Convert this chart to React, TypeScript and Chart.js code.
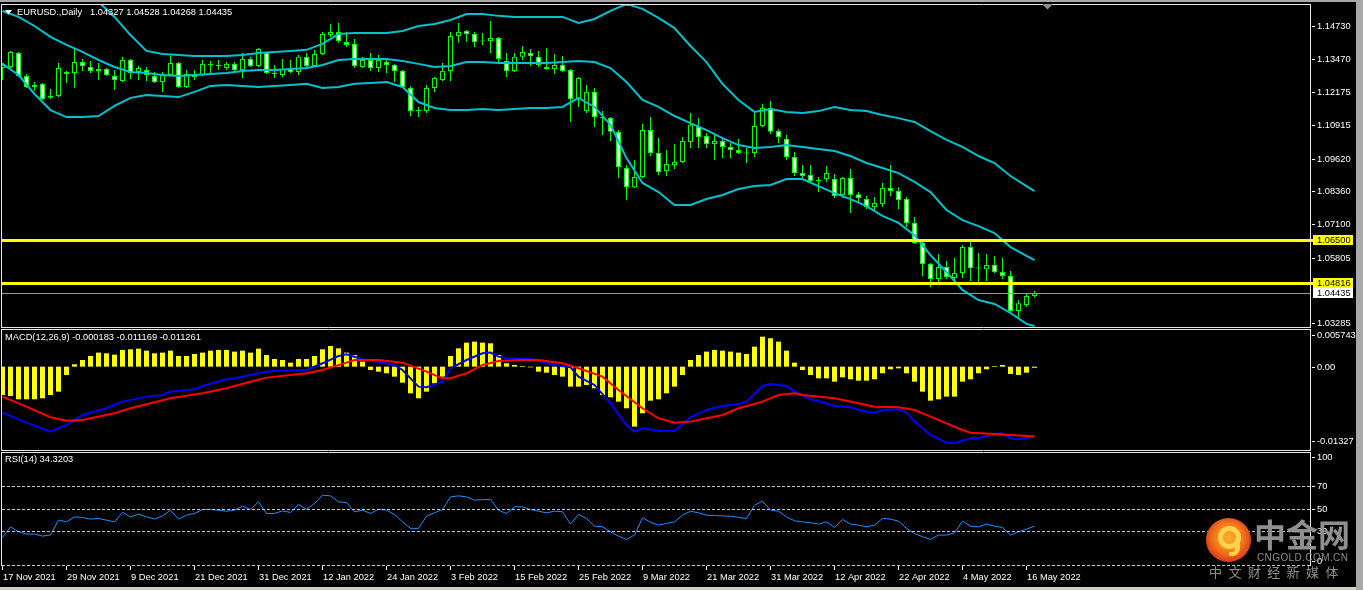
import React, { useEffect, useRef } from 'react';
import { Chart, registerables } from 'chart.js';

Chart.register(...registerables);

// ---------------- data ----------------
const dateLabels = ['17 Nov 2021', '29 Nov 2021', '9 Dec 2021', '21 Dec 2021', '31 Dec 2021', '12 Jan 2022', '24 Jan 2022', '3 Feb 2022', '15 Feb 2022', '25 Feb 2022', '9 Mar 2022', '21 Mar 2022', '31 Mar 2022', '12 Apr 2022', '22 Apr 2022', '4 May 2022', '16 May 2022'];
const dateTickBars = [0, 8, 16, 24, 32, 40, 48, 56, 64, 72, 80, 88, 96, 104, 112, 120, 128];

const opens = [1.1311, 1.1315, 1.1369, 1.1280, 1.1246, 1.1250, 1.1196, 1.1203, 1.1296, 1.1292, 1.1334, 1.1315, 1.1307, 1.1307, 1.1280, 1.1261, 1.1342, 1.1296, 1.1303, 1.1280, 1.1257, 1.1284, 1.1330, 1.1238, 1.1276, 1.1284, 1.1323, 1.1323, 1.1311, 1.1327, 1.1303, 1.1346, 1.1319, 1.1369, 1.1292, 1.1284, 1.1307, 1.1296, 1.1354, 1.1319, 1.1365, 1.1438, 1.1450, 1.1411, 1.1404, 1.1315, 1.1342, 1.1311, 1.1334, 1.1323, 1.1300, 1.1234, 1.1145, 1.1145, 1.1234, 1.1265, 1.1300, 1.1434, 1.1454, 1.1442, 1.1415, 1.1415, 1.1427, 1.1338, 1.1300, 1.1354, 1.1369, 1.1354, 1.1315, 1.1307, 1.1323, 1.1303, 1.1192, 1.1145, 1.1219, 1.1122, 1.1118, 1.1065, 1.0926, 1.0852, 1.0891, 1.1072, 1.0984, 1.0914, 1.0937, 1.0949, 1.1026, 1.1084, 1.1049, 1.1018, 1.1030, 1.1007, 1.0995, 1.0984, 1.0984, 1.1088, 1.1157, 1.1068, 1.1038, 1.0968, 1.0906, 1.0899, 1.0876, 1.0883, 1.0883, 1.0822, 1.0887, 1.0825, 1.0806, 1.0775, 1.0787, 1.0849, 1.0837, 1.0806, 1.0714, 1.0637, 1.0556, 1.0498, 1.0544, 1.0502, 1.0521, 1.0621, 1.0540, 1.0536, 1.0552, 1.0525, 1.0510, 1.0375, 1.0398, 1.04327];
const highs = [1.1330, 1.1377, 1.1373, 1.1288, 1.1257, 1.1253, 1.1230, 1.1330, 1.1300, 1.1384, 1.1346, 1.1338, 1.1330, 1.1311, 1.1303, 1.1354, 1.1346, 1.1319, 1.1315, 1.1296, 1.1296, 1.1357, 1.1334, 1.1303, 1.1303, 1.1342, 1.1338, 1.1342, 1.1334, 1.1334, 1.1369, 1.1354, 1.1388, 1.1373, 1.1323, 1.1346, 1.1342, 1.1361, 1.1369, 1.1381, 1.1450, 1.1481, 1.1485, 1.1450, 1.1423, 1.1354, 1.1369, 1.1361, 1.1350, 1.1327, 1.1303, 1.1242, 1.1161, 1.1246, 1.1276, 1.1330, 1.1450, 1.1485, 1.1458, 1.1450, 1.1446, 1.1492, 1.1431, 1.1369, 1.1369, 1.1396, 1.1384, 1.1377, 1.1388, 1.1365, 1.1357, 1.1307, 1.1276, 1.1246, 1.1234, 1.1145, 1.1122, 1.1072, 1.0937, 1.0957, 1.1095, 1.1122, 1.1041, 1.0995, 1.1018, 1.1045, 1.1138, 1.1118, 1.1061, 1.1061, 1.1045, 1.1022, 1.1038, 1.1003, 1.1138, 1.1172, 1.1184, 1.1076, 1.1053, 1.0987, 1.0937, 1.0937, 1.0891, 1.0933, 1.0903, 1.0891, 1.0922, 1.0833, 1.0818, 1.0814, 1.0868, 1.0937, 1.0852, 1.0814, 1.0737, 1.0644, 1.0560, 1.0594, 1.0567, 1.0579, 1.0629, 1.0641, 1.0598, 1.0594, 1.0587, 1.0579, 1.0529, 1.0417, 1.0444, 1.04528];
const lows = [1.1265, 1.1311, 1.1276, 1.1234, 1.1223, 1.1188, 1.1192, 1.1199, 1.1253, 1.1234, 1.1300, 1.1292, 1.1265, 1.1280, 1.1226, 1.1257, 1.1269, 1.1265, 1.1261, 1.1253, 1.1219, 1.1280, 1.1234, 1.1234, 1.1265, 1.1280, 1.1292, 1.1303, 1.1303, 1.1296, 1.1273, 1.1315, 1.1315, 1.1288, 1.1273, 1.1276, 1.1292, 1.1284, 1.1315, 1.1315, 1.1361, 1.1431, 1.1408, 1.1392, 1.1311, 1.1311, 1.1300, 1.1296, 1.1292, 1.1257, 1.1234, 1.1126, 1.1122, 1.1138, 1.1219, 1.1261, 1.1261, 1.1408, 1.1411, 1.1392, 1.1400, 1.1369, 1.1330, 1.1276, 1.1296, 1.1342, 1.1319, 1.1315, 1.1303, 1.1288, 1.1296, 1.1103, 1.1161, 1.1138, 1.1084, 1.1053, 1.1030, 1.0887, 1.0802, 1.0849, 1.0887, 1.0972, 1.0899, 1.0895, 1.0922, 1.0945, 1.1003, 1.1003, 1.1003, 1.0957, 1.0964, 1.0964, 1.0980, 1.0945, 1.0968, 1.1084, 1.1057, 1.1022, 1.0957, 1.0895, 1.0880, 1.0868, 1.0833, 1.0872, 1.0810, 1.0810, 1.0752, 1.0791, 1.0768, 1.0756, 1.0775, 1.0818, 1.0768, 1.0698, 1.0633, 1.0510, 1.0467, 1.0486, 1.0498, 1.0494, 1.0502, 1.0490, 1.0486, 1.0490, 1.0521, 1.0498, 1.0367, 1.0348, 1.0390, 1.04268];
const closes = [1.1323, 1.1373, 1.1280, 1.1238, 1.1238, 1.1192, 1.1203, 1.1311, 1.1288, 1.1334, 1.1319, 1.1300, 1.1300, 1.1284, 1.1265, 1.1342, 1.1292, 1.1311, 1.1284, 1.1257, 1.1288, 1.1330, 1.1238, 1.1288, 1.1284, 1.1327, 1.1327, 1.1319, 1.1327, 1.1303, 1.1346, 1.1319, 1.1384, 1.1292, 1.1288, 1.1307, 1.1296, 1.1354, 1.1319, 1.1365, 1.1442, 1.1450, 1.1415, 1.1400, 1.1319, 1.1342, 1.1311, 1.1342, 1.1323, 1.1300, 1.1238, 1.1145, 1.1149, 1.1234, 1.1273, 1.1300, 1.1434, 1.1450, 1.1442, 1.1411, 1.1413, 1.1427, 1.1346, 1.1300, 1.1354, 1.1373, 1.1357, 1.1323, 1.1307, 1.1323, 1.1300, 1.1192, 1.1273, 1.1219, 1.1122, 1.1118, 1.1065, 1.0930, 1.0852, 1.0891, 1.1072, 1.0984, 1.0910, 1.0941, 1.0949, 1.1030, 1.1092, 1.1045, 1.1018, 1.1030, 1.1007, 1.0995, 1.0984, 1.0982, 1.1088, 1.1157, 1.1065, 1.1045, 1.0968, 1.0906, 1.0895, 1.0876, 1.0880, 1.0906, 1.0818, 1.0887, 1.0822, 1.0810, 1.0775, 1.0791, 1.0849, 1.0837, 1.0802, 1.0714, 1.0637, 1.0556, 1.0498, 1.0544, 1.0506, 1.0521, 1.0621, 1.0540, 1.0538, 1.0552, 1.0525, 1.0510, 1.0375, 1.0405, 1.0432, 1.04435];

const bandBars = [0, 2, 4, 6, 8, 10, 12, 14, 16, 18, 20, 22, 24, 26, 28, 30, 32, 34, 36, 38, 40, 42, 44, 46, 48, 50, 52, 54, 56, 58, 60, 62, 64, 66, 68, 70, 72, 74, 76, 78, 80, 82, 84, 86, 88, 90, 92, 94, 96, 98, 100, 102, 104, 106, 108, 110, 112, 114, 116, 118, 120, 122, 124, 126, 128, 129];
const bbUpper = [1.1735, 1.1731, 1.1735, 1.1712, 1.1677, 1.1623, 1.1566, 1.1508, 1.1438, 1.1377, 1.1365, 1.1361, 1.1357, 1.1357, 1.1357, 1.1361, 1.1369, 1.1373, 1.1377, 1.1381, 1.1404, 1.1442, 1.1446, 1.1446, 1.1446, 1.1454, 1.1473, 1.1481, 1.1496, 1.1519, 1.1519, 1.1512, 1.1508, 1.1508, 1.1508, 1.1508, 1.1485, 1.1500, 1.1531, 1.1558, 1.1539, 1.1504, 1.1465, 1.1396, 1.1334, 1.1250, 1.1188, 1.1142, 1.1153, 1.1142, 1.1138, 1.1145, 1.1161, 1.1149, 1.1145, 1.1130, 1.1118, 1.1103, 1.1068, 1.1034, 1.1007, 1.0972, 1.0945, 1.0895, 1.0856, 1.0837];
const bbMiddle = [1.1531, 1.1508, 1.1473, 1.1431, 1.1400, 1.1373, 1.1342, 1.1315, 1.1296, 1.1292, 1.1284, 1.1280, 1.1284, 1.1288, 1.1292, 1.1300, 1.1303, 1.1303, 1.1307, 1.1311, 1.1323, 1.1342, 1.1346, 1.1346, 1.1346, 1.1338, 1.1327, 1.1315, 1.1319, 1.1334, 1.1334, 1.1330, 1.1330, 1.1330, 1.1330, 1.1334, 1.1338, 1.1334, 1.1311, 1.1257, 1.1188, 1.1161, 1.1126, 1.1099, 1.1072, 1.1041, 1.1014, 1.1003, 1.1007, 1.1014, 1.1007, 1.0999, 1.0991, 1.0972, 1.0945, 1.0926, 1.0906, 1.0872, 1.0833, 1.0764, 1.0725, 1.0702, 1.0675, 1.0621, 1.0587, 1.0571];
const bbLower = [1.1327, 1.1284, 1.1211, 1.1149, 1.1122, 1.1122, 1.1126, 1.1165, 1.1196, 1.1207, 1.1203, 1.1199, 1.1219, 1.1242, 1.1246, 1.1242, 1.1238, 1.1242, 1.1246, 1.1250, 1.1234, 1.1238, 1.1250, 1.1253, 1.1257, 1.1238, 1.1180, 1.1157, 1.1149, 1.1149, 1.1153, 1.1149, 1.1153, 1.1157, 1.1157, 1.1161, 1.1196, 1.1161, 1.1092, 1.0964, 1.0868, 1.0833, 1.0783, 1.0783, 1.0806, 1.0822, 1.0845, 1.0856, 1.0860, 1.0883, 1.0883, 1.0856, 1.0829, 1.0806, 1.0779, 1.0741, 1.0714, 1.0667, 1.0590, 1.0525, 1.0456, 1.0417, 1.0402, 1.0367, 1.0325, 1.0317];

const priceTicks = [1.14730, 1.13470, 1.12175, 1.10915, 1.09620, 1.08360, 1.07100, 1.05805, 1.03285];
const levelLines = [1.06500, 1.04816];
const bidPrice = 1.04435;
const headerSymbol = 'EURUSD.,Daily';
const headerOHLC = '1.04327 1.04528 1.04268 1.04435';

const macdHist = [-0.00457, -0.00473, -0.00526, -0.00526, -0.00526, -0.00510, -0.00457, -0.00403, -0.00134, 0.00038,
  0.00107, 0.00172, 0.00226, 0.00215, 0.00193, 0.00269, 0.00279, 0.00290, 0.00258, 0.00215,
  0.00226, 0.00258, 0.00172, 0.00172, 0.00204, 0.00226, 0.00258, 0.00269, 0.00269, 0.00242,
  0.00258, 0.00226, 0.00290, 0.00188, 0.00124, 0.00107, 0.00064, 0.00124, 0.00124, 0.00172,
  0.00279, 0.00333, 0.00295, 0.00226, 0.00188, 0.00081, -0.00054, -0.00081, -0.00107, -0.00161,
  -0.00258, -0.00430, -0.00510, -0.00403, -0.00269, -0.00161, 0.00172, 0.00295, 0.00387, 0.00403,
  0.00387, 0.00376, 0.00188, 0.00054, 0.00027, 0.00011, -0.00011, -0.00081, -0.00097, -0.00134,
  -0.00161, -0.00322, -0.00322, -0.00295, -0.00349, -0.00457, -0.00494, -0.00564, -0.00671, -0.00967,
  -0.00752, -0.00548, -0.00526, -0.00430, -0.00322, -0.00134, 0.00107, 0.00188, 0.00242, 0.00269,
  0.00258, 0.00242, 0.00226, 0.00204, 0.00322, 0.00483, 0.00457, 0.00403, 0.00258, 0.00064,
  -0.00054, -0.00134, -0.00188, -0.00188, -0.00242, -0.00172, -0.00204, -0.00226, -0.00226, -0.00204,
  -0.00107, -0.00043, -0.00027, -0.00107, -0.00242, -0.00403, -0.00548, -0.00526, -0.00483, -0.00483,
  -0.00242, -0.00204, -0.00107, -0.00043, 0.00011, 0.00027, -0.00118, -0.00134, -0.00097, -0.000183];
const macdBars = [0, 3, 6, 8, 10, 13, 15, 18, 20, 21, 24, 25, 28, 29, 31, 33, 34, 38, 40, 42, 43, 45, 49, 50, 52, 53, 55, 56, 58, 60, 61, 62, 63, 66, 69, 71, 72, 74, 76, 78, 79, 80, 82, 84, 86, 88, 90, 92, 93, 95, 96, 98, 99, 101, 103, 104, 106, 108, 109, 110, 112, 113, 114, 116, 118, 119, 121, 122, 124, 125, 126, 127, 128, 129];
const macdMain = [-0.00741, -0.00902, -0.01047, -0.00940, -0.00779, -0.00671, -0.00564, -0.00483, -0.00457, -0.00403, -0.00365, -0.00312, -0.00204, -0.00188, -0.00134, -0.00081, -0.00070, -0.00054, 0.00054, 0.00172, 0.00199, 0.00118, 0.00027, -0.00054, -0.00322, -0.00333, -0.00242, -0.00027, 0.00107, 0.00215, 0.00226, 0.00161, 0.00134, 0.00124, 0.00027, -0.00011, -0.00161, -0.00295, -0.00591, -0.00940, -0.01047, -0.00994, -0.01031, -0.01037, -0.00816, -0.00698, -0.00634, -0.00602, -0.00564, -0.00312, -0.00279, -0.00312, -0.00403, -0.00526, -0.00591, -0.00634, -0.00655, -0.00730, -0.00741, -0.00698, -0.00688, -0.00741, -0.00886, -0.01101, -0.01225, -0.01235, -0.01155, -0.01155, -0.01085, -0.01074, -0.01155, -0.01171, -0.01155, -0.011169];
const signalBars = [0, 3, 6, 8, 10, 14, 16, 21, 25, 28, 31, 33, 38, 40, 43, 44, 47, 50, 53, 55, 56, 58, 60, 62, 65, 67, 70, 72, 75, 77, 80, 82, 84, 86, 90, 92, 95, 97, 99, 100, 104, 107, 109, 112, 114, 116, 118, 120, 121, 124, 126, 129];
const signalLine = [-0.00483, -0.00645, -0.00816, -0.00870, -0.00859, -0.00752, -0.00671, -0.00510, -0.00430, -0.00349, -0.00242, -0.00177, -0.00107, -0.00054, 0.00064, 0.00107, 0.00107, 0.00064, -0.00081, -0.00188, -0.00188, -0.00107, 0.00027, 0.00091, 0.00107, 0.00107, 0.00054, -0.00027, -0.00161, -0.00376, -0.00671, -0.00833, -0.00902, -0.00886, -0.00779, -0.00671, -0.00564, -0.00457, -0.00430, -0.00457, -0.00510, -0.00591, -0.00645, -0.00655, -0.00698, -0.00806, -0.00913, -0.01021, -0.01064, -0.01085, -0.01101, -0.011261];
const macdTicks = [0.005743, 0, -0.01327];
const macdTickLabels = ['0.005743', '0.00', '-0.01327'];
const macdTitle = 'MACD(12,26,9) -0.000183 -0.011169 -0.011261';

const rsiValues = [24.4, 33.8, 29.4, 27.4, 27.4, 25.6, 26.5, 39.7, 38.2, 42.6,
  42.1, 40.6, 41.2, 39.7, 38.2, 46.5, 42.6, 45.0, 42.6, 40.6,
  43.5, 48.5, 40.6, 44.1, 45.6, 49.1, 49.1, 48.5, 47.6, 48.5,
  52.1, 49.1, 55.9, 45.6, 45.6, 47.9, 46.5, 53.5, 49.4, 54.4,
  61.8, 61.2, 55.9, 55.3, 47.1, 48.5, 45.6, 49.4, 48.5, 44.7,
  38.2, 32.4, 32.4, 43.2, 46.2, 49.1, 60.3, 61.2, 60.3, 57.4,
  57.9, 57.9, 48.5, 45.6, 51.5, 51.5, 49.1, 47.6, 46.2, 47.6,
  47.1, 36.2, 44.7, 41.2, 34.4, 33.8, 29.4, 25.6, 22.6, 26.5,
  41.8, 37.8, 35.3, 36.8, 38.2, 44.1, 47.6, 46.2, 44.1, 43.8,
  43.5, 43.2, 42.1, 41.2, 52.9, 56.5, 48.5, 47.6, 42.6, 39.1,
  38.2, 37.4, 36.2, 38.2, 33.2, 40.3, 36.2, 35.3, 33.8, 35.3,
  41.2, 40.6, 38.8, 32.4, 27.9, 25.0, 22.6, 26.5, 26.5, 28.5,
  38.8, 34.4, 33.8, 36.2, 34.4, 33.2, 26.5, 29.4, 31.8, 34.3203];
const rsiLevels = [70, 50, 30, 0];
const rsiTicks = [100, 70, 50, 30, 0];
const rsiTitle = 'RSI(14) 34.3203';

// ---------------- styles ----------------
const FONT = '"Liberation Sans", Arial, sans-serif';
const W = 1363;
const PLOT_L = 2;
const PLOT_R = 1310;
const X_MIN = -0.0625;
const GREEN = '#00ff00';
const CYAN = '#00c2cf';
const FRAME = '#e8e8e8';
const AXIS_TEXT = '#ffffff';
const AXIS_FONT = 9.3;
const TITLE_FONT = 9.3;
const LABEL_X = 1317;
const P_MAX = 1.15539;
const P_MIN = 1.03130;

function txt(ctx: CanvasRenderingContext2D, s: string, x: number, y: number, color: string, size: number, align: CanvasTextAlign = 'left', baseline: CanvasTextBaseline = 'middle') {
  ctx.fillStyle = color;
  ctx.font = `${size}px ${FONT}`;
  ctx.textAlign = align;
  ctx.textBaseline = baseline;
  ctx.fillText(s, x, y);
}

function hline(ctx: CanvasRenderingContext2D, x1: number, x2: number, y: number, color: string) {
  ctx.strokeStyle = color;
  ctx.lineWidth = 1;
  ctx.beginPath();
  ctx.moveTo(x1, y + 0.5);
  ctx.lineTo(x2, y + 0.5);
  ctx.stroke();
}

function vline(ctx: CanvasRenderingContext2D, x: number, y1: number, y2: number, color: string) {
  ctx.strokeStyle = color;
  ctx.lineWidth = 1;
  ctx.beginPath();
  ctx.moveTo(x + 0.5, y1);
  ctx.lineTo(x + 0.5, y2);
  ctx.stroke();
}

const blackBg = {
  id: 'blackBg',
  beforeDraw(chart: any) {
    const { ctx, width, height } = chart;
    ctx.save();
    ctx.fillStyle = '#000';
    ctx.fillRect(0, 0, width, height);
    ctx.restore();
  },
};

const mainDeco = {
  id: 'mainDeco',
  afterDatasetsDraw(chart: any) {
    const { ctx, chartArea, scales } = chart;
    const y = scales.y;
    ctx.save();
    const yb = Math.round(y.getPixelForValue(bidPrice));
    hline(ctx, chartArea.left, chartArea.right, yb, '#9a9a9a');
    ctx.strokeStyle = '#ffff00';
    ctx.lineWidth = 3;
    levelLines.forEach((v) => {
      const py = Math.round(y.getPixelForValue(v)) + 0.5;
      ctx.beginPath();
      ctx.moveTo(chartArea.left, py);
      ctx.lineTo(1314, py);
      ctx.stroke();
    });
    ctx.restore();
  },
  afterDraw(chart: any) {
    const { ctx, scales } = chart;
    const y = scales.y;
    ctx.save();
    ctx.fillStyle = '#a8a8a8';
    ctx.fillRect(0, 0, W, 2);
    hline(ctx, 1, PLOT_R + 1, 4, FRAME);
    hline(ctx, 1, PLOT_R + 1, 327, FRAME);
    vline(ctx, 1, 4, 328, FRAME);
    vline(ctx, PLOT_R, 4, 328, FRAME);
    ctx.fillStyle = '#8c8c8c';
    ctx.beginPath();
    ctx.moveTo(1042, 4);
    ctx.lineTo(1053, 4);
    ctx.lineTo(1047.5, 9.5);
    ctx.closePath();
    ctx.fill();
    ctx.fillStyle = '#ffffff';
    ctx.beginPath();
    ctx.moveTo(5, 10);
    ctx.lineTo(12, 10);
    ctx.lineTo(8.5, 14.5);
    ctx.closePath();
    ctx.fill();
    txt(ctx, headerSymbol, 17, 12.5, '#ffffff', TITLE_FONT);
    txt(ctx, headerOHLC, 90, 12.5, '#ffffff', TITLE_FONT);
    priceTicks.forEach((v) => {
      const py = Math.round(y.getPixelForValue(v));
      hline(ctx, 1312, 1315, py, AXIS_TEXT);
      txt(ctx, v.toFixed(5), LABEL_X, py + 0.5, AXIS_TEXT, AXIS_FONT);
    });
    const boxes: [number, string, string][] = [
      [levelLines[0], '#ffff00', '#000000'],
      [levelLines[1], '#ffff00', '#000000'],
      [bidPrice, '#ffffff', '#000000'],
    ];
    boxes.forEach(([v, bg, fg]) => {
      const py = Math.round(y.getPixelForValue(v));
      ctx.fillStyle = bg;
      ctx.fillRect(1313, py - 5, 40, 10);
      txt(ctx, v.toFixed(5), LABEL_X, py + 0.5, fg, AXIS_FONT);
    });
    ctx.restore();
  },
};

const macdDeco = {
  id: 'macdDeco',
  afterDraw(chart: any) {
    const { ctx, chartArea, scales } = chart;
    const y = scales.y;
    ctx.save();
    hline(ctx, 1, PLOT_R + 1, 1, FRAME);
    hline(ctx, 1, PLOT_R + 1, 122, FRAME);
    vline(ctx, 1, 1, 123, FRAME);
    vline(ctx, PLOT_R, 1, 123, FRAME);
    txt(ctx, macdTitle, 5, 9.5, '#ffffff', TITLE_FONT);
    macdTicks.forEach((v, i) => {
      const raw = y.getPixelForValue(v);
      const py = Math.round(Math.min(Math.max(raw, chartArea.top + 4), chartArea.bottom - 8));
      hline(ctx, 1312, 1315, py, AXIS_TEXT);
      txt(ctx, macdTickLabels[i], LABEL_X, py + 0.5, AXIS_TEXT, AXIS_FONT);
    });
    ctx.restore();
  },
};

const rsiDeco = {
  id: 'rsiDeco',
  afterDraw(chart: any) {
    const { ctx, chartArea, scales } = chart;
    const y = scales.y;
    const x = scales.x;
    ctx.save();
    hline(ctx, 1, PLOT_R + 1, 1, FRAME);
    vline(ctx, 1, 1, chartArea.bottom + 1, FRAME);
    vline(ctx, PLOT_R, 1, chartArea.bottom + 1, FRAME);
    ctx.setLineDash([3, 2]);
    rsiLevels.forEach((v) => {
      const py = Math.round(y.getPixelForValue(v));
      hline(ctx, chartArea.left, chartArea.right, py, '#c8c8c8');
    });
    ctx.setLineDash([]);
    txt(ctx, rsiTitle, 5, 8.5, '#ffffff', TITLE_FONT);
    rsiTicks.forEach((v) => {
      const raw = y.getPixelForValue(v);
      const py = Math.round(Math.min(Math.max(raw, chartArea.top + 5), chartArea.bottom - 4));
      hline(ctx, 1312, 1315, py, AXIS_TEXT);
      txt(ctx, String(v), LABEL_X, py + 0.5, AXIS_TEXT, AXIS_FONT);
    });
    const base = chartArea.bottom + 1;
    dateTickBars.forEach((b, i) => {
      const px = Math.floor(x.getPixelForValue(b));
      vline(ctx, px, base, base + 4, AXIS_TEXT);
      txt(ctx, dateLabels[i], px + 1, base + 11, AXIS_TEXT, AXIS_FONT);
    });
    ctx.fillStyle = '#d4d0c8';
    ctx.fillRect(0, chart.height - 3, W, 3);
    ctx.restore();
  },
};

function baseOptions(padding: any, yMin: number, yMax: number, xMin: number) {
  return {
    animation: false,
    responsive: false,
    maintainAspectRatio: false,
    devicePixelRatio: 1,
    events: [],
    layout: { padding },
    plugins: { legend: { display: false }, tooltip: { enabled: false } },
    scales: {
      x: { type: 'linear', min: xMin, max: xMin + (PLOT_R - PLOT_L) / 8, display: false, offset: false, grid: { display: false } },
      y: { type: 'linear', min: yMin, max: yMax, display: false, grid: { display: false } },
    },
  };
}

function mainConfig(): any {
  const band = (vals: number[]) => ({
    type: 'line',
    data: bandBars.map((b, k) => ({ x: b, y: vals[k] })),
    borderColor: CYAN,
    borderWidth: 2,
    pointRadius: 0,
    tension: 0,
    fill: false,
  });
  return {
    type: 'bar',
    data: {
      datasets: [
        band(bbUpper),
        band(bbMiddle),
        band(bbLower),
        {
          type: 'bar',
          data: opens.map((o, i) => ({ x: i, y: [o, closes[i]] })),
          backgroundColor: opens.map((o, i) => (closes[i] < o ? '#ffffff' : '#000000')),
          borderColor: GREEN,
          borderWidth: 1,
          borderSkipped: false,
          barThickness: 5,
          minBarLength: 1,
          grouped: false,
          inflateAmount: 0,
        },
        {
          type: 'bar',
          data: highs.map((h, i) => ({ x: i, y: [lows[i], h] })),
          backgroundColor: GREEN,
          borderWidth: 0,
          barThickness: 1,
          grouped: false,
          inflateAmount: 0,
        },
      ],
    },
    options: baseOptions({ left: PLOT_L, right: W - PLOT_R, top: 5, bottom: 1 }, P_MIN, P_MAX, X_MIN),
    plugins: [blackBg, mainDeco],
  };
}

function macdConfig(): any {
  return {
    type: 'bar',
    data: {
      datasets: [
        {
          type: 'line',
          data: signalBars.map((b, k) => ({ x: b, y: signalLine[k] })),
          borderColor: '#ff0000',
          borderWidth: 2,
          pointRadius: 0,
          tension: 0,
        },
        {
          type: 'line',
          data: macdBars.map((b, k) => ({ x: b, y: macdMain[k] })),
          borderColor: '#0000ff',
          borderWidth: 2,
          pointRadius: 0,
          tension: 0,
        },
        {
          type: 'bar',
          data: macdHist.map((v, i) => ({ x: i, y: v })),
          backgroundColor: '#ffff00',
          borderWidth: 0,
          barThickness: 5,
          grouped: false,
          inflateAmount: 0,
          base: 0,
        },
      ],
    },
    options: baseOptions({ left: PLOT_L, right: W - PLOT_R, top: 3, bottom: 2 }, -0.01327, 0.005743, X_MIN),
    plugins: [blackBg, macdDeco],
  };
}

function rsiConfig(): any {
  return {
    type: 'line',
    data: {
      datasets: [
        {
          data: rsiValues.map((v, i) => ({ x: i, y: v })),
          borderColor: '#1e90ff',
          borderWidth: 1,
          pointRadius: 0,
          tension: 0,
        },
      ],
    },
    options: baseOptions({ left: PLOT_L, right: W - PLOT_R, top: 1, bottom: 25 }, 0, 100, X_MIN),
    plugins: [blackBg, rsiDeco],
  };
}

function ChartCanvas({ top, height, make }: { top: number; height: number; make: () => any }) {
  const ref = useRef<HTMLCanvasElement>(null);
  useEffect(() => {
    const chart = new Chart(ref.current as HTMLCanvasElement, make());
    return () => chart.destroy();
  }, []);
  return (
    <canvas
      ref={ref}
      width={W}
      height={height}
      style={{ position: 'absolute', left: 0, top, width: W, height, display: 'block' }}
    />
  );
}

function Logo() {
  const gray = '#8f8f8f';
  return (
    <div style={{ position: 'absolute', left: 0, top: 0, width: W, height: 590, pointerEvents: 'none' }}>
      <div
        style={{
          position: 'absolute', left: 1206, top: 518, width: 45, height: 44, borderRadius: '50%',
          background: 'radial-gradient(circle at 50% 45%, #ffb02e 0%, #f3761c 45%, #d9361a 75%, #b8220f 100%)',
        }}
      />
      <div
        style={{
          position: 'absolute', left: 1218, top: 526, width: 13, height: 13, borderRadius: '50%',
          border: '5px solid #ffd24a', boxSizing: 'content-box',
        }}
      />
      <div
        style={{
          position: 'absolute', left: 1229, top: 538, width: 6, height: 14, borderRadius: '0 0 8px 0',
          borderRight: '5px solid #ffd24a', borderBottom: '4px solid #ffd24a',
        }}
      />
      <div style={{ position: 'absolute', left: 1254, top: 513, fontFamily: '"Noto Sans CJK SC", sans-serif', fontWeight: 700, fontSize: 32, color: gray, lineHeight: '40px', whiteSpace: 'nowrap' }}>中金网</div>
      <div style={{ position: 'absolute', left: 1257, top: 552, fontFamily: FONT, fontSize: 10, color: gray, letterSpacing: '0.4px', lineHeight: '12px', whiteSpace: 'nowrap' }}>CNGOLD.COM.CN</div>
      <div style={{ position: 'absolute', left: 1209, top: 564, fontFamily: '"Noto Sans CJK SC", sans-serif', fontSize: 13, color: gray, letterSpacing: '6.4px', lineHeight: '16px', whiteSpace: 'nowrap' }}>中文财经新媒体</div>
    </div>
  );
}

export default function App() {
  return (
    <div style={{ position: 'fixed', left: 0, top: 0, width: W, height: 590, background: '#000', overflow: 'hidden' }}>
      <ChartCanvas top={0} height={328} make={mainConfig} />
      <ChartCanvas top={328} height={123} make={macdConfig} />
      <ChartCanvas top={451} height={139} make={rsiConfig} />
      <Logo />
      <div style={{ position: 'absolute', left: 1356, top: 0, width: 7, height: 590, background: '#a8a8a8' }} />
    </div>
  );
}
